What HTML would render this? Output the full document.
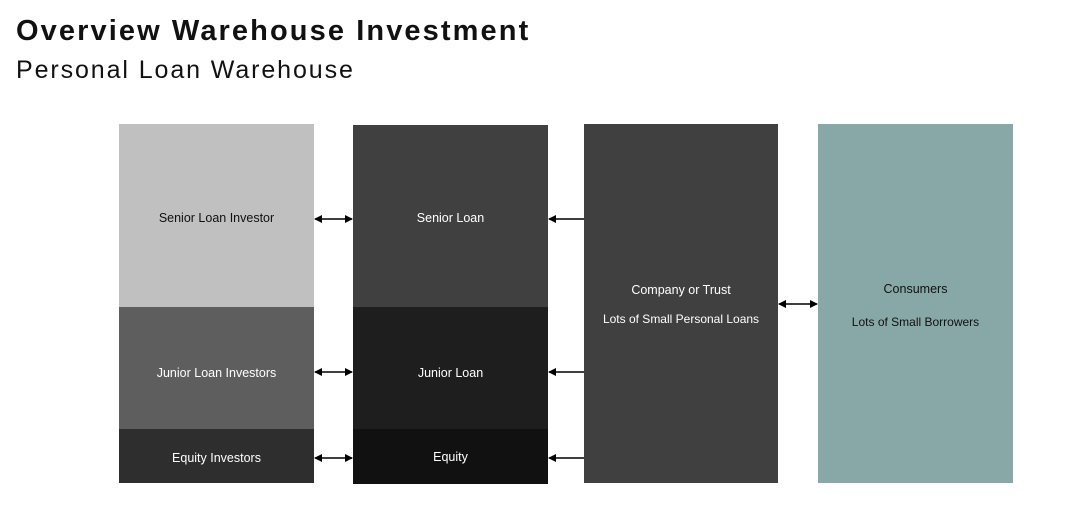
<!DOCTYPE html>
<html><head><meta charset="utf-8"><style>
body{margin:0;width:1086px;height:512px;background:#fff;position:relative;overflow:hidden;font-family:"Liberation Sans",sans-serif}
.t{position:absolute;left:16px;top:15px;font-size:29px;font-weight:bold;color:#111;letter-spacing:2.1px;white-space:nowrap}
.s{position:absolute;left:16px;top:56px;font-size:25px;color:#111;letter-spacing:1.9px;white-space:nowrap}
.b{position:absolute;display:flex;flex-direction:column;align-items:center;justify-content:center;color:#fff;font-size:12.5px;text-align:center;box-sizing:border-box}
</style></head><body>
<div class="t">Overview Warehouse Investment</div>
<div class="s">Personal Loan Warehouse</div>
<div class="b" style="left:119px;top:124px;width:195px;height:183px;background:#c0c0c0;color:#111;justify-content:flex-start"><div style="margin-top:87px">Senior Loan Investor</div></div>
<div class="b" style="left:119px;top:307px;width:195px;height:122px;background:#5e5e5e;padding-top:9px">Junior Loan Investors</div>
<div class="b" style="left:119px;top:429px;width:195px;height:54px;background:#2e2e2e;padding-top:3px">Equity Investors</div>
<div class="b" style="left:353px;top:125px;width:195px;height:182px;background:#404040;justify-content:flex-start"><div style="margin-top:86px">Senior Loan</div></div>
<div class="b" style="left:353px;top:307px;width:195px;height:122px;background:#1e1e1e;padding-top:9px">Junior Loan</div>
<div class="b" style="left:353px;top:429px;width:195px;height:55px;background:#111">Equity</div>
<div class="b" style="left:584px;top:124px;width:194px;height:359px;background:#404040;justify-content:flex-start"><div style="margin-top:159px">Company or Trust</div><div style="margin-top:15px;font-size:12px">Lots of Small Personal Loans</div></div>
<div class="b" style="left:818px;top:124px;width:195px;height:359px;background:#87a8a7;color:#111;justify-content:flex-start"><div style="margin-top:158px">Consumers</div><div style="margin-top:19px;font-size:12px">Lots of Small Borrowers</div></div>
<svg width="1086" height="512" style="position:absolute;left:0;top:0">
<defs><marker id="a" markerWidth="8" markerHeight="8" refX="7" refY="4" orient="auto-start-reverse" markerUnits="userSpaceOnUse"><path d="M0,0 L8,4 L0,8 z" fill="#000"/></marker></defs>
<g stroke="#000" stroke-width="1.5">
<line x1="315" y1="219" x2="352" y2="219" marker-start="url(#a)" marker-end="url(#a)"/>
<line x1="315" y1="372" x2="352" y2="372" marker-start="url(#a)" marker-end="url(#a)"/>
<line x1="315" y1="458" x2="352" y2="458" marker-start="url(#a)" marker-end="url(#a)"/>
<line x1="584" y1="219" x2="549" y2="219" marker-end="url(#a)"/>
<line x1="584" y1="372" x2="549" y2="372" marker-end="url(#a)"/>
<line x1="584" y1="458" x2="549" y2="458" marker-end="url(#a)"/>
<line x1="779" y1="304" x2="817" y2="304" marker-start="url(#a)" marker-end="url(#a)"/>
</g></svg>
</body></html>
